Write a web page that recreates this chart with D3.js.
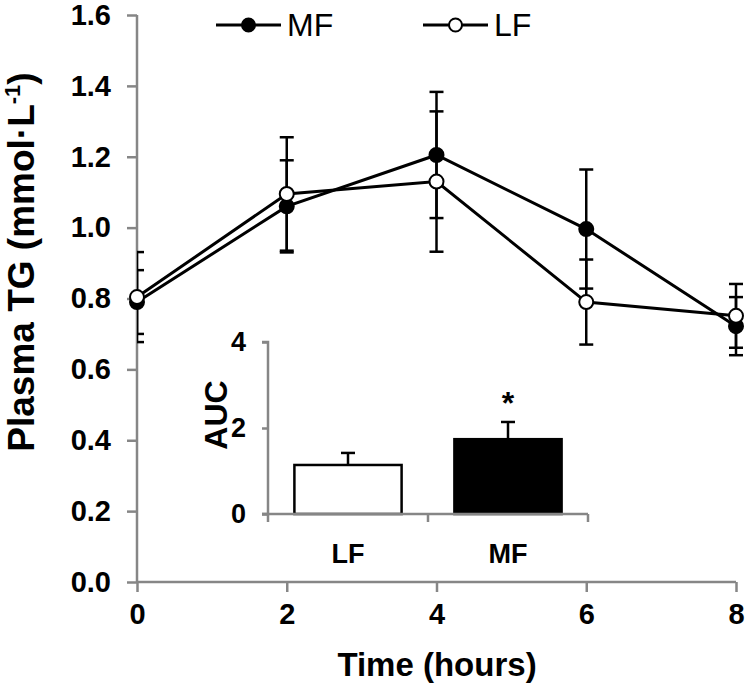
<!DOCTYPE html>
<html>
<head>
<meta charset="utf-8">
<script src="https://cdn.jsdelivr.net/npm/d3@7"></script>
<style>
  body { margin: 0; background: #fff; }
  svg { display: block; font-family: "Liberation Sans", Arial, sans-serif; }
</style>
</head>
<body>
<svg id="chart"></svg>
<script>
// time points (hours)
const times = [0, 2, 4, 6, 8];
// plasma TG, mmol/L
const mfMean = [0.79, 1.06, 1.205, 0.996, 0.722];
const mfErr  = [0.09, 0.13, 0.178, 0.168, 0.082];
const lfMean = [0.804, 1.095, 1.13, 0.79, 0.751];
const lfErr  = [0.127, 0.16, 0.198, 0.12, 0.09];
const yTicks = [0, 0.2, 0.4, 0.6, 0.8, 1.0, 1.2, 1.4, 1.6];
const xTicks = [0, 2, 4, 6, 8];

// inset AUC bars
const aucGroups = ["LF", "MF"];
const aucMean = [1.14, 1.74];
const aucErr  = [0.28, 0.40];
const aucTicks = [0, 2, 4];

const width = 747, height = 694;
const gray = "#868686";

const svg = d3.select("#chart").attr("width", width).attr("height", height);

const x = d3.scaleLinear().domain([0, 8]).range([137, 736]);
const y = d3.scaleLinear().domain([0, 1.6]).range([582, 15]);

// y axis
const yAxis = svg.append("g")
    .attr("transform", "translate(137,0)")
    .call(d3.axisLeft(y).tickValues(yTicks).tickFormat(d3.format(".1f")).tickSize(10).tickPadding(16));
// x axis
const xAxis = svg.append("g")
    .attr("transform", "translate(0,582)")
    .call(d3.axisBottom(x).tickValues(xTicks).tickSize(10).tickPadding(11));

[yAxis, xAxis].forEach(g => {
  g.select(".domain").attr("stroke", gray).attr("stroke-width", 2.5);
  g.selectAll(".tick line").attr("stroke", gray).attr("stroke-width", 2.5);
  g.selectAll(".tick text").attr("fill", "#000").attr("font-size", 29).attr("font-weight", "bold");
});
yAxis.select(".domain").attr("d", "M0,582V15");
xAxis.select(".domain").attr("d", "M137,0H736");

// axis titles
svg.append("text")
    .attr("x", 437).attr("y", 676)
    .attr("text-anchor", "middle")
    .attr("font-size", 33).attr("font-weight", "bold")
    .text("Time (hours)");

const yTitle = svg.append("text")
    .attr("transform", "translate(34,262) rotate(-90)")
    .attr("text-anchor", "middle")
    .attr("font-size", 37).attr("font-weight", "bold");
yTitle.append("tspan").text("Plasma TG (mmol·L");
yTitle.append("tspan").attr("font-size", 22).attr("dy", -14).text("-1");
yTitle.append("tspan").attr("dy", 14).text(")");

// clip so error caps stop at the y axis
svg.append("clipPath").attr("id", "plotClip")
  .append("rect").attr("x", 137).attr("y", 0).attr("width", 620).attr("height", 600);

const series = [
  { name: "MF", mean: mfMean, err: mfErr, fill: "#000" },
  { name: "LF", mean: lfMean, err: lfErr, fill: "#fff" }
];

const plot = svg.append("g").attr("clip-path", "url(#plotClip)");

// error bars
series.forEach(s => {
  const eb = plot.append("g").attr("stroke", "#000").attr("stroke-width", 2.5);
  times.forEach((t, i) => {
    const cx = x(t), hi = y(s.mean[i] + s.err[i]), lo = y(s.mean[i] - s.err[i]);
    eb.append("line").attr("x1", cx).attr("x2", cx).attr("y1", hi).attr("y2", lo);
    eb.append("line").attr("x1", cx - 7).attr("x2", cx + 7).attr("y1", hi).attr("y2", hi);
    eb.append("line").attr("x1", cx - 7).attr("x2", cx + 7).attr("y1", lo).attr("y2", lo);
  });
});

const line = d3.line().x((d, i) => x(times[i])).y(d => y(d));

series.forEach(s => {
  svg.append("path")
      .attr("d", line(s.mean))
      .attr("fill", "none").attr("stroke", "#000").attr("stroke-width", 3);
  svg.append("g").selectAll("circle")
    .data(s.mean)
    .join("circle")
      .attr("cx", (d, i) => x(times[i]))
      .attr("cy", d => y(d))
      .attr("r", 7)
      .attr("fill", s.fill).attr("stroke", "#000").attr("stroke-width", 2);
});

// legend
const legendPos = [{ x1: 216, x2: 281 }, { x1: 423, x2: 488 }];
series.forEach((s, i) => {
  const p = legendPos[i];
  const g = svg.append("g");
  g.append("line").attr("x1", p.x1).attr("x2", p.x2).attr("y1", 25).attr("y2", 25)
      .attr("stroke", "#000").attr("stroke-width", 3);
  g.append("circle").attr("cx", (p.x1 + p.x2) / 2).attr("cy", 25).attr("r", 6.5)
      .attr("fill", s.fill).attr("stroke", "#000").attr("stroke-width", 2);
  g.append("text").attr("x", p.x2 + 6).attr("y", 36)
      .attr("font-size", 32).text(s.name);
});

// inset bar chart
const ix = d3.scaleBand().domain(aucGroups).range([268, 588]).paddingInner(0.33).paddingOuter(0.165);
const iy = d3.scaleLinear().domain([0, 4]).range([514, 342]);

const inset = svg.append("g");
inset.selectAll("rect")
  .data(aucGroups)
  .join("rect")
    .attr("x", d => ix(d))
    .attr("y", (d, i) => iy(aucMean[i]))
    .attr("width", ix.bandwidth())
    .attr("height", (d, i) => iy(0) - iy(aucMean[i]))
    .attr("fill", (d, i) => i === 0 ? "#fff" : "#000")
    .attr("stroke", "#000").attr("stroke-width", 2.5);

aucGroups.forEach((g, i) => {
  const cx = ix(g) + ix.bandwidth() / 2;
  const top = iy(aucMean[i] + aucErr[i]);
  inset.append("line").attr("x1", cx).attr("x2", cx).attr("y1", iy(aucMean[i])).attr("y2", top)
      .attr("stroke", "#000").attr("stroke-width", 2.5);
  inset.append("line").attr("x1", cx - 7).attr("x2", cx + 7).attr("y1", top).attr("y2", top)
      .attr("stroke", "#000").attr("stroke-width", 2.5);
});

// significance marker over MF
inset.append("text")
    .attr("x", ix("MF") + ix.bandwidth() / 2).attr("y", iy(aucMean[1] + aucErr[1]) - 8)
    .attr("text-anchor", "middle").attr("font-size", 32).attr("font-weight", "bold")
    .text("*");

const iyAxis = inset.append("g")
    .attr("transform", "translate(268,0)")
    .call(d3.axisLeft(iy).tickValues(aucTicks).tickFormat(d3.format("d")).tickSize(6).tickPadding(16));
const ixAxis = inset.append("g")
    .attr("transform", "translate(0,514)")
    .call(d3.axisBottom(ix).tickSize(0).tickPadding(30));
// category dividers on the inset x axis
ixAxis.selectAll(".divider")
  .data([268, 428, 588])
  .join("line")
    .attr("x1", d => d).attr("x2", d => d).attr("y1", 0).attr("y2", 8)
    .attr("stroke", gray).attr("stroke-width", 2.5);

[iyAxis, ixAxis].forEach(g => {
  g.select(".domain").attr("stroke", gray).attr("stroke-width", 2.5);
  g.selectAll(".tick line").attr("stroke", gray).attr("stroke-width", 2.5);
  g.selectAll(".tick text").attr("fill", "#000").attr("font-size", 27).attr("font-weight", "bold");
});
iyAxis.select(".domain").attr("d", "M-6,514H0V342H-6");
ixAxis.select(".domain").attr("d", "M262,0H588");

inset.append("text")
    .attr("transform", "translate(227,415) rotate(-90)")
    .attr("text-anchor", "middle")
    .attr("font-size", 32).attr("font-weight", "bold")
    .text("AUC");
</script>
</body>
</html>
